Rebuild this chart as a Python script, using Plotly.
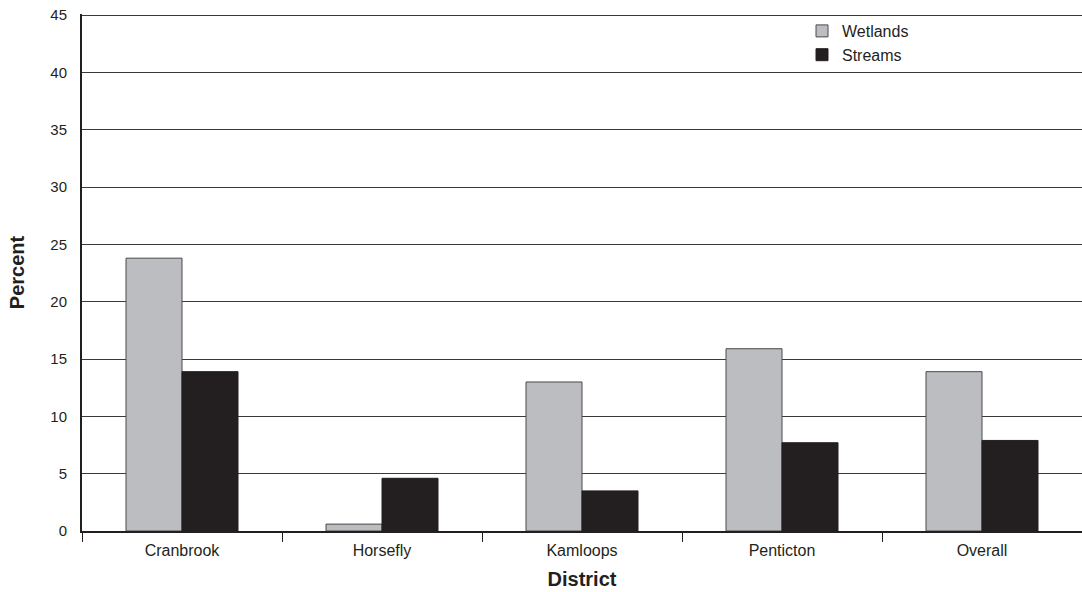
import plotly.graph_objects as go

districts = ["Cranbrook", "Horsefly", "Kamloops", "Penticton", "Overall"]
wetlands = [23.8, 0.6, 13.0, 15.9, 13.9]
streams = [13.9, 4.6, 3.5, 7.7, 7.9]
y_ticks = [0, 5, 10, 15, 20, 25, 30, 35, 40, 45]

FONT = "Liberation Sans, Arial, sans-serif"

fig = go.Figure()
fig.add_trace(go.Bar(name="Wetlands", x=districts, y=wetlands,
                     marker=dict(color="#bcbdc1", line=dict(color="#4a4a4a", width=1))))
fig.add_trace(go.Bar(name="Streams", x=districts, y=streams,
                     marker=dict(color="#231f20", line=dict(color="#231f20", width=1))))

fig.update_layout(
    width=1082, height=592,
    margin=dict(l=82, r=0, t=14, b=61, autoexpand=False),
    paper_bgcolor="white", plot_bgcolor="white",
    barmode="group", bargap=0.44, bargroupgap=0,
    font=dict(family=FONT, size=15, color="#231f20"),
    showlegend=True,
    legend=dict(x=0.72, y=1.0, xanchor="left", yanchor="top",
                bgcolor="rgba(0,0,0,0)", font=dict(size=16, family=FONT),
                tracegroupgap=0, itemwidth=30),
    xaxis=dict(
        title=dict(text="<b>District</b>", font=dict(size=20, family=FONT), standoff=14),
        tickson="boundaries", ticks="outside", ticklen=9, tickcolor="#231f20", tickwidth=1,
        showline=True, linecolor="#231f20", linewidth=2,
        tickfont=dict(size=16, family=FONT), ticklabelstandoff=4,
        showgrid=False, zeroline=False, automargin=False,
    ),
    yaxis=dict(
        title=dict(text="<b>Percent</b>", font=dict(size=20, family=FONT), standoff=20),
        range=[0, 45.1], tickvals=y_ticks, ticks="",
        showline=True, linecolor="#231f20", linewidth=2,
        showgrid=True, gridcolor="#3a3a3a", gridwidth=1,
        zeroline=False, tickfont=dict(size=15, family=FONT), ticklabelstandoff=10,
        ticklabeloverflow="allow", automargin=False,
    ),
)

fig.write_html("out.html",
               config={"displayModeBar": False},
               post_script="document.body.style.margin='0';document.body.style.overflow='hidden';")
